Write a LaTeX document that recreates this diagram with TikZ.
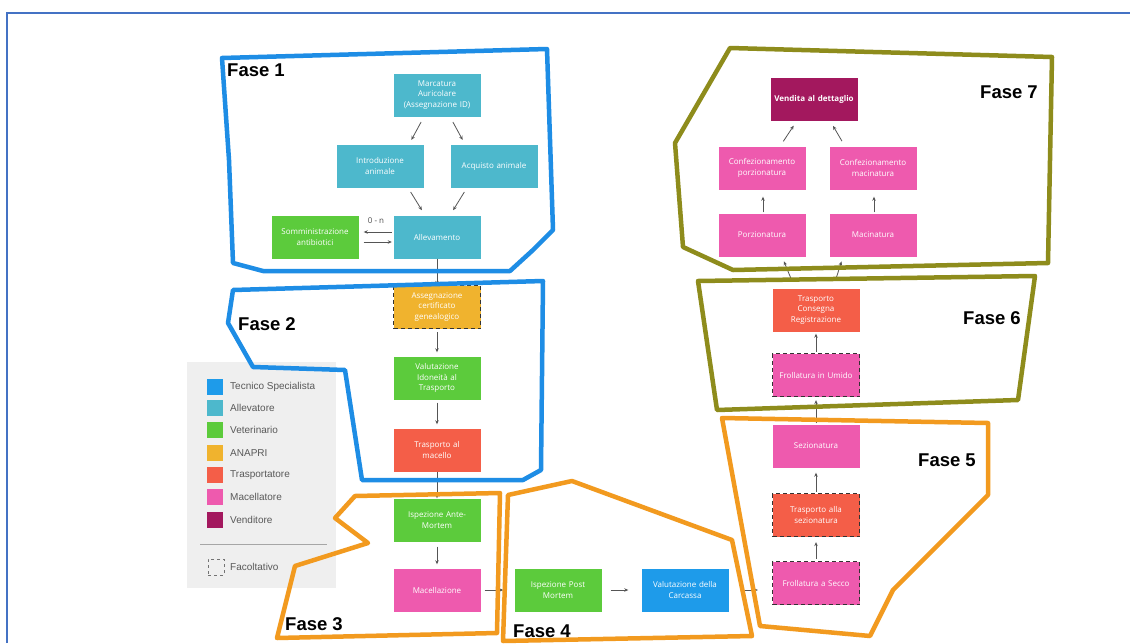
\documentclass[tikz,border=0pt]{standalone}
\usepackage{fontspec}
\setmainfont{Open Sans}
\newfontfamily\labfont{Liberation Sans}
\usetikzlibrary{arrows.meta}
\definecolor{cAll}{HTML}{4DB8CC}
\definecolor{cVet}{HTML}{5CCB3C}
\definecolor{cAna}{HTML}{F0B32E}
\definecolor{cTra}{HTML}{F45E48}
\definecolor{cMac}{HTML}{EE5AAE}
\definecolor{cVen}{HTML}{A3185E}
\definecolor{cTec}{HTML}{1E9BEA}
\definecolor{pBlue}{HTML}{1E8DE5}
\definecolor{pOrange}{HTML}{F29A1F}
\definecolor{pOlive}{HTML}{8E8C1C}
\definecolor{frameblue}{HTML}{4472C4}
\definecolor{legbg}{HTML}{EFEFEF}
\definecolor{arr}{HTML}{555555}
\begin{document}
\begin{tikzpicture}[x=1pt,y=-1pt,
 box/.style={minimum width=87pt, minimum height=43pt, text width=84pt, align=center, inner sep=1pt, text=white, font=\fontsize{8}{10.5}\selectfont},
 opt/.style={draw=black!80, line width=1.3pt, dash pattern=on 4pt off 3pt},
 flow/.style={-{Stealth[length=4pt,width=3.5pt]}, draw=arr, line width=0.8pt},
 phase/.style={line width=4.5pt, line join=round},
 fase/.style={font=\labfont\bfseries\fontsize{18.5}{20}\selectfont, anchor=west, inner sep=0pt},
 legtxt/.style={font=\labfont\fontsize{10}{12}\selectfont, text=black!65, anchor=west, inner sep=0pt},
 legsq/.style={minimum size=16pt, inner sep=0pt},
]
\useasboundingbox (0,0) rectangle (1130,643);
\fill[white] (0,0) rectangle (1130,643);
\draw[frameblue, line width=2pt] (7,643) -- (7,13) -- (1130,13);

% legend
\fill[legbg] (187,362) rectangle (336,588);
\node[legsq, fill=cTec] (l1) at (215,387) {};
\node[legsq, fill=cAll] (l2) at (215,408) {};
\node[legsq, fill=cVet] (l3) at (215,430) {};
\node[legsq, fill=cAna] (l4) at (215,453) {};
\node[legsq, fill=cTra] (l5) at (215,475) {};
\node[legsq, fill=cMac] (l6) at (215,497) {};
\node[legsq, fill=cVen] (l7) at (215,520) {};
\node[legsq, draw=black!55, dashed, line width=0.7pt] (l8) at (216,567) {};
\node[legtxt] (t1) at (230,387) {Tecnico Specialista};
\node[legtxt] (t2) at (230,408) {Allevatore};
\node[legtxt] (t3) at (230,430) {Veterinario};
\node[legtxt] (t4) at (230,453) {ANAPRI};
\node[legtxt] (t5) at (230,475) {Trasportatore};
\node[legtxt] (t6) at (230,497) {Macellatore};
\node[legtxt] (t7) at (230,520) {Venditore};
\node[legtxt] (t8) at (230,567) {Facoltativo};
\draw[black!35, line width=0.8pt] (200,544) -- (327,544);

% boxes
\node[box, fill=cAll] (marc) at (437,95) {Marcatura\\Auricolare\\(Assegnazione ID)};
\node[box, fill=cAll] (intro) at (380,166) {Introduzione\\animale};
\node[box, fill=cAll] (acq) at (494,166) {Acquisto animale};
\node[box, fill=cAll] (allev) at (437,237) {Allevamento};
\node[box, fill=cVet] (somm) at (315,237) {Somministrazione\\antibiotici};
\node[box, fill=cAna, opt] (asse) at (437,307) {Assegnazione\\certificato\\genealogico};
\node[box, fill=cVet] (valid) at (437,378) {Valutazione\\Idoneità al\\Trasporto};
\node[box, fill=cTra] (trmac) at (437,450) {Trasporto al\\macello};
\node[box, fill=cVet] (ante) at (437,520) {Ispezione Ante-\\Mortem};
\node[box, fill=cMac] (macel) at (437,590) {Macellazione};
\node[box, fill=cVet] (post) at (558,590) {Ispezione Post\\Mortem};
\node[box, fill=cTec] (carc) at (685,590) {Valutazione della\\Carcassa};
\node[box, fill=cMac, opt] (fsecco) at (816,583) {Frollatura a Secco};
\node[box, fill=cTra, opt] (trsez) at (816,515) {Trasporto alla\\sezionatura};
\node[box, fill=cMac] (sez) at (816,446) {Sezionatura};
\node[box, fill=cMac, opt] (fumido) at (816,375) {Frollatura in Umido};
\node[box, fill=cTra] (trcons) at (816,310) {Trasporto\\Consegna\\Registrazione};
\node[box, fill=cMac] (porz) at (762,235) {Porzionatura};
\node[box, fill=cMac] (macin) at (873,235) {Macinatura};
\node[box, fill=cMac] (cporz) at (762,168) {Confezionamento\\porzionatura};
\node[box, fill=cMac] (cmac) at (873,168) {Confezionamento\\macinatura};
\node[box, fill=cVen, font=\bfseries\fontsize{8}{10.5}\selectfont] (vend) at (814,99) {Vendita al dettaglio};

% connectors
\draw[flow, shorten <=6pt, shorten >=5pt] ([xshift=-13pt]marc.south) -- ([xshift=29pt]intro.north);
\draw[flow, shorten <=6pt, shorten >=5pt] ([xshift=13pt]marc.south) -- ([xshift=-29pt]acq.north);
\draw[flow, shorten <=5pt, shorten >=6pt] ([xshift=28pt]intro.south) -- ([xshift=-12pt]allev.north);
\draw[flow, shorten <=5pt, shorten >=6pt] ([xshift=-27pt]acq.south) -- ([xshift=13pt]allev.north);
\draw[flow, shorten <=1.5pt, shorten >=5pt] ([yshift=5pt]allev.west) -- ([yshift=5pt]somm.east);
\node[font=\fontsize{8}{10}\selectfont, text=black!70] (zn) at (376,221) {0 - n};
\draw[flow, shorten <=5pt, shorten >=1.5pt] ([yshift=-5pt]somm.east) -- ([yshift=-5pt]allev.west);
\draw[flow] (allev) -- (asse);
\draw[flow, shorten <=3pt, shorten >=4pt] (asse) -- (valid);
\draw[flow, shorten <=3pt, shorten >=4pt] (valid) -- (trmac);
\draw[flow] (trmac) -- (ante);
\draw[flow, shorten <=5pt, shorten >=4pt] (ante) -- (macel);
\draw[flow, shorten <=4pt, shorten >=11pt] (macel) -- (post);
\draw[flow, shorten <=9pt, shorten >=13pt] (post) -- (carc);
\draw[flow, shorten <=14pt, shorten >=14pt] (carc.east) -- (carc.east -| fsecco.west);
\draw[flow, shorten <=2pt, shorten >=5pt] (fsecco) -- (trsez);
\draw[flow, shorten <=1pt, shorten >=5pt] (trsez) -- (sez);
\draw[flow, shorten <=1pt, shorten >=3pt] (sez) -- (fumido);
\draw[flow, shorten <=1pt, shorten >=2pt] (fumido) -- (trcons);
\draw[flow, shorten <=8pt, shorten >=5pt] ([xshift=-21pt]trcons.north) -- ([xshift=20pt]porz.south);
\draw[flow, shorten <=8pt, shorten >=5pt] ([xshift=17pt]trcons.north) -- ([xshift=-30pt]macin.south);
\draw[flow, shorten <=1pt, shorten >=7pt] ([xshift=1pt]porz.north) -- ([xshift=1pt]cporz.south);
\draw[flow, shorten <=1pt, shorten >=7pt] ([xshift=1pt]macin.north) -- ([xshift=1pt]cmac.south);
\draw[flow, shorten <=6pt, shorten >=6pt] ([xshift=18pt]cporz.north) -- ([xshift=-17pt]vend.south);
\draw[flow, shorten <=6pt, shorten >=6pt] ([xshift=-28pt]cmac.north) -- ([xshift=16pt]vend.south);

% phases
\draw[pBlue, phase] (222,58) -- (547,49) -- (553,230) -- (533,250) -- (510,271) -- (263,271) -- (233,263) -- (229,160) -- cycle;
\draw[pBlue, phase] (233,290) -- (543,281) -- (541,470) -- (523,480) -- (362,480) -- (345,370) -- (253,367) -- (228,323) -- cycle;
\draw[pOrange, phase] (355,496) -- (500,493) -- (497,633) -- (277,638) -- (295,566) -- (368,543) -- (335,518) -- cycle;
\draw[pOrange, phase] (508,495) -- (572,481) -- (732,540) -- (752,636) -- (503,641) -- cycle;
\draw[pOrange, phase] (722,418) -- (988,423) -- (988,495) -- (893,590) -- (870,636) -- (760,626) -- cycle;
\draw[pOlive, phase] (698,281) -- (1035,276) -- (1018,400) -- (717,410) -- cycle;
\draw[pOlive, phase] (730,48) -- (1052,57) -- (1048,263) -- (733,270) -- (683,247) -- (675,143) -- cycle;

\node[fase] (f1) at (227,70) {Fase 1};
\node[fase] (f2) at (238,324) {Fase 2};
\node[fase] (f3) at (285,624) {Fase 3};
\node[fase] (f4) at (513,631) {Fase 4};
\node[fase] (f5) at (918,460) {Fase 5};
\node[fase] (f6) at (963,318) {Fase 6};
\node[fase] (f7) at (980,92) {Fase 7};
\end{tikzpicture}
\end{document}
